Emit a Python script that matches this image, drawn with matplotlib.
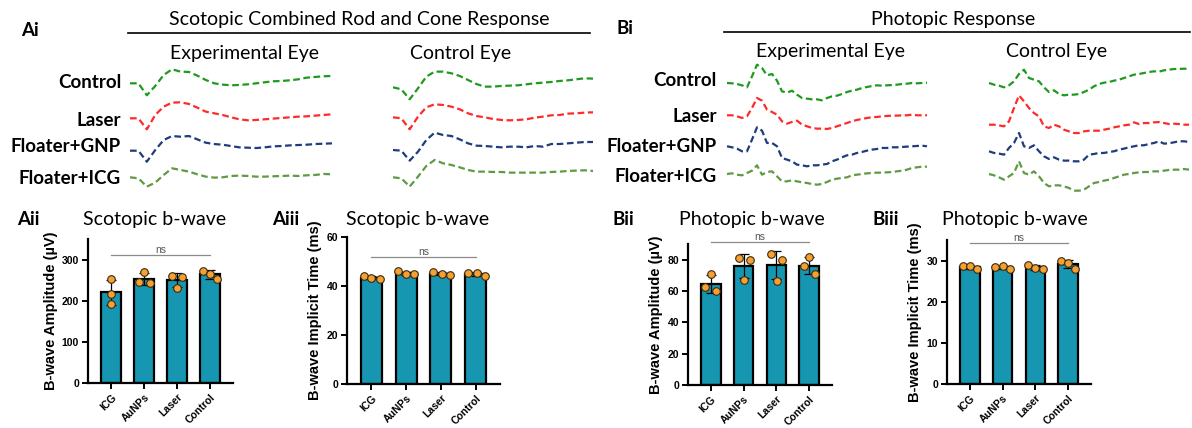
import numpy as np
import matplotlib
matplotlib.use("Agg")
import matplotlib.pyplot as plt

# ---- ERG traces (amplitude, arbitrary µV units, upward positive) ----
t_scot = np.arange(0, 250, 10)   # ms
t_phot = np.arange(0, 205, 5)    # ms

rows = ["Control", "Laser", "Floater+GNP", "Floater+ICG"]

scot_exp = [
    [0, 0, -36, -8, 25, 42, 35, 34, 23, 10, 0, -4, -6, -5, -3, 0, 3, 6, 7, 9, 12, 17, 19, 21, 22],
    [0, 0, -33, 10, 35, 47, 48, 43, 32, 20, 15, 10, 3, -3, -6, -5, -3, -1, 1, 3, 5, 6, 8, 10, 12],
    [0, 0, -33, 2, 32, 44, 42, 44, 34, 24, 20, 18, 14, 10, 9, 8, 10, 13, 14, 16, 17, 18, 20, 21, 22],
    [0, -3, -28, -16, 7, 27, 22, 17, 9, 2, -1, 0, 4, 5, 4, 2, 2, 3, 4, 5, 4, 6, 7, 10, 9],
]
scot_ctl = [
    [0, -6, -36, -3, 32, 47, 47, 42, 34, 22, 10, 2, 2, 4, 5, 6, 9, 12, 14, 16, 19, 21, 24, 27, 26],
    [0, -3, -36, 2, 30, 39, 37, 32, 24, 12, 4, 0, -5, -8, -9, -8, -6, -1, 2, 6, 7, 11, 12, 14, 15],
    [0, -2, -32, -5, 30, 52, 45, 42, 32, 20, 13, 12, 10, 8, 10, 10, 8, 12, 10, 18, 18, 20, 22, 24, 24],
    [0, -3, -28, 2, 34, 52, 42, 37, 30, 22, 17, 17, 16, 16, 14, 14, 14, 14, 14, 16, 17, 19, 20, 21, 19],
]
phot_exp = [
    [0, -1, -3, -7, -13, 20, 55, 45, 23, 27, 7, -25, -29, -23, -35, -45, -47, -49, -49, -52, -45,
     -40, -38, -33, -27, -23, -20, -15, -12, -9, -7, -8, -7, -6, -5, -3, -2, 0, -1, 0, 1],
    [0, 0, -3, -8, -3, 22, 52, 44, 17, 10, 2, -18, -25, -20, -16, -28, -33, -38, -40, -40, -41,
     -38, -33, -28, -23, -18, -14, -11, -8, -6, -5, -3, -2, -1, -1, 0, 0, 2, 0, 0, 0],
    [0, -3, -7, -15, -15, 20, 57, 47, 10, 10, 0, -35, -40, -45, -55, -57, -60, -57, -57, -55, -53,
     -45, -40, -33, -27, -25, -20, -17, -13, -10, -8, -5, -5, -3, -3, -2, -1, 0, 1, 2, 0],
    [0, 2, -2, -4, 3, 10, 26, -2, 6, 8, -7, -22, -22, -19, -22, -25, -27, -30, -32, -30, -24,
     -17, -14, -12, -10, -4, -2, 0, 2, 3, 4, 4, 5, 6, 8, 10, 13, 18, 20, 22, 22],
]
phot_ctl = [
    [0, -5, -8, -13, -7, 5, 27, 40, 15, 10, 5, -13, -27, -22, -33, -37, -35, -35, -33, -27, -20,
     -10, -3, 1, 3, 7, 10, 15, 20, 25, 27, 30, 33, 35, 34, 38, 40, 42, 42, 43, 42],
    [0, 0, -2, -5, 10, 50, 88, 70, 50, 35, 25, -5, -10, 0, -5, -15, -20, -25, -25, -20, -18,
     -18, -18, -15, -12, -8, -5, -2, 0, 7, 2, 5, 5, 7, 8, 5, 2, 3, 2, 0, 0],
    [0, -5, -7, -10, 10, 25, 55, 15, 10, 18, 0, -15, -23, -18, -25, -28, -28, -30, -30, -25, -10,
     -8, -5, -5, -2, 0, 5, 8, 12, 15, 18, 18, 22, 25, 30, 23, 24, 27, 30, 30, 28],
    [0, -4, -10, -17, -7, 3, 38, 3, -2, 8, -7, -27, -37, -34, -34, -37, -42, -50, -50, -47, -37,
     -27, -24, -20, -17, -12, -7, -2, 0, 3, 5, 6, 6, 8, 8, 10, 12, 13, 13, 15, 13],
]

# ---- b-wave measurements (3 eyes per group) ----
groups = ["ICG", "AuNPs", "Laser", "Control"]
scot_amp = [[253, 216, 191], [269, 245, 243], [261, 258, 231], [273, 266, 253]]
scot_time = [[43.9, 43.4, 42.8], [46.0, 45.0, 44.9], [45.7, 45.0, 44.5], [45.3, 45.3, 43.9]]
phot_amp = [[71, 62.5, 60.3], [81, 79.5, 67.2], [83.8, 80, 66.7], [81.7, 75.7, 71]]
phot_time = [[28.6, 28.6, 28.0], [28.4, 28.6, 28.0], [29.0, 28.1, 28.0], [30.0, 29.4, 28.0]]

TRACE_COLORS = ["#1f9a1f", "#ff2a2a", "#1f3c7c", "#5f9a44"]
TEAL = "#1696b0"
ORANGE = "#f5a033"
SANS = ["Lato", "DejaVu Sans"]
ARIAL = ["Liberation Sans", "DejaVu Sans"]

W, H = 1192, 428
fig = plt.figure(figsize=(W / 100, H / 100), dpi=100)


def px_axes(x0, y0, x1, y1):
    return fig.add_axes([x0 / W, 1 - y1 / H, (x1 - x0) / W, (y1 - y0) / H])


def ftext(x, y, s, **kw):
    kw.setdefault("family", SANS)
    return fig.text(x / W, 1 - y / H, s, **kw)


# ---- trace blocks ----
blocks = [
    (t_scot, scot_exp, (130, 332), [83.3, 118.3, 150.7, 177.3]),
    (t_scot, scot_ctl, (393, 593), [87.3, 117.3, 150.0, 177.3]),
    (t_phot, phot_exp, (727, 927), [83.0, 115.3, 146.3, 174.0]),
    (t_phot, phot_ctl, (989, 1189), [83.0, 124.7, 151.3, 174.0]),
]
for t, traces, (x0, x1), bases in blocks:
    ax = px_axes(x0, 40, x1, 200)
    for tr, base, c in zip(traces, bases, TRACE_COLORS):
        ax.plot(t, base - np.array(tr) / 3.0, color=c, lw=1.6,
                ls=(0, (3, 1.6)), clip_on=False)
    ax.set_xlim(t[0], t[-1])
    ax.set_ylim(200, 40)
    ax.axis("off")

# headers
ftext(30, 30, "Ai", fontsize=13.5, fontweight="bold", ha="center", va="center")
ftext(359, 19, "Scotopic Combined Rod and Cone Response", fontsize=14, ha="center", va="center")
fig.add_artist(plt.Line2D([128 / W, 590 / W], [1 - 33 / H] * 2, color="black", lw=1.2))
ftext(244, 53, "Experimental Eye", fontsize=14, ha="center", va="center")
ftext(461, 54, "Control Eye", fontsize=14, ha="center", va="center")
for lab, y in zip(rows, [83, 120, 147, 178]):
    ftext(121, y, lab, fontsize=13.5, fontweight="bold", ha="right", va="center")

ftext(625, 29, "Bi", fontsize=13.5, fontweight="bold", ha="center", va="center")
ftext(953, 20, "Photopic Response", fontsize=14, ha="center", va="center")
fig.add_artist(plt.Line2D([724 / W, 1190 / W], [1 - 32 / H] * 2, color="black", lw=1.2))
ftext(830, 52, "Experimental Eye", fontsize=14, ha="center", va="center")
ftext(1057, 52, "Control Eye", fontsize=14, ha="center", va="center")
for lab, y in zip(rows, [81, 117, 146, 176]):
    ftext(717, y, lab, fontsize=13.5, fontweight="bold", ha="right", va="center")


# ---- bar panels ----
def bar_panel(rect, pts, jit, ylim, yticks, ylabel, ns_y, tag, tag_x, title, title_x):
    ax = px_axes(*rect)
    x = np.arange(len(groups))
    means = [np.mean(p) for p in pts]
    sds = [np.std(p, ddof=1) for p in pts]
    ax.bar(x, means, width=0.6, color=TEAL, edgecolor="black", linewidth=1.6, zorder=1)
    ax.errorbar(x, means, yerr=sds, fmt="none", ecolor="black", elinewidth=0.9,
                capsize=3.5, capthick=0.9, zorder=2)
    for i, p in enumerate(pts):
        ax.scatter(i + np.array(jit[i]), p, s=30, color=ORANGE, edgecolor="#3b2a10",
                   linewidth=0.8, zorder=3, clip_on=False)
    ax.set_xlim(-0.7, 3.7)
    ax.set_ylim(*ylim)
    ax.set_yticks(yticks)
    ax.set_xticks(x)
    ax.set_xticklabels(groups, rotation=45, ha="right", rotation_mode="anchor",
                       fontweight="bold", fontsize=7.5, family=ARIAL)
    for lab in ax.get_yticklabels():
        lab.set_fontweight("bold")
        lab.set_family(ARIAL)
    ax.tick_params(width=1.4, length=4.5, labelsize=7.5, pad=2)
    for s in ["top", "right"]:
        ax.spines[s].set_visible(False)
    for s in ["left", "bottom"]:
        ax.spines[s].set_linewidth(1.6)
    ax.set_ylabel(ylabel, fontsize=10.5, fontweight="bold", family=ARIAL, labelpad=3)
    ax.plot([0, 3], [ns_y, ns_y], color="#8a8a8a", lw=0.9, clip_on=False)
    ax.text(1.5, ns_y, "ns", ha="center", va="bottom", fontsize=7.5, color="#555555",
            family=ARIAL)
    ftext(tag_x, 220, tag, fontsize=13.5, fontweight="bold", ha="left", va="center")
    ftext(title_x, 220, title, fontsize=14, ha="center", va="center")
    return ax


jit_a = [[0, 0, 0], [0, -0.15, 0.17], [-0.15, 0.15, 0], [-0.22, 0, 0.21]]
jit_b = [[-0.22, 0, 0.25], [-0.23, 0, 0.23], [-0.23, 0.02, 0.25], [-0.21, 0.04, 0.27]]
jit_c = [[0, -0.18, 0.15], [-0.15, 0.19, 0], [-0.15, 0.18, 0.02], [0, -0.17, 0.17]]
jit_d = [[-0.2, 0, 0.23], [-0.22, 0, 0.22], [-0.22, 0, 0.22], [-0.22, 0, 0.22]]

bar_panel((88, 239, 233, 383), scot_amp, jit_a, (0, 350), [0, 100, 200, 300],
          "B-wave Amplitude (\u00b5V)", 310, "Aii", 17, "Scotopic b-wave", 155)
bar_panel((347, 237, 500, 384), scot_time, jit_b, (0, 60), [0, 20, 40, 60],
          "B-wave Implicit Time (ms)", 51.8, "Aiii", 272, "Scotopic b-wave", 418)
bar_panel((688, 244, 832, 385), phot_amp, jit_c, (0, 90), [0, 20, 40, 60, 80],
          "B-wave Amplitude (\u00b5V)", 91.3, "Bii", 613, "Photopic b-wave", 752)
bar_panel((947, 240, 1091, 384), phot_time, jit_d, (0, 35), [0, 10, 20, 30],
          "B-wave Implicit Time (ms)", 34.3, "Biii", 873, "Photopic b-wave", 1015)

fig.savefig("out.png", dpi=100)
